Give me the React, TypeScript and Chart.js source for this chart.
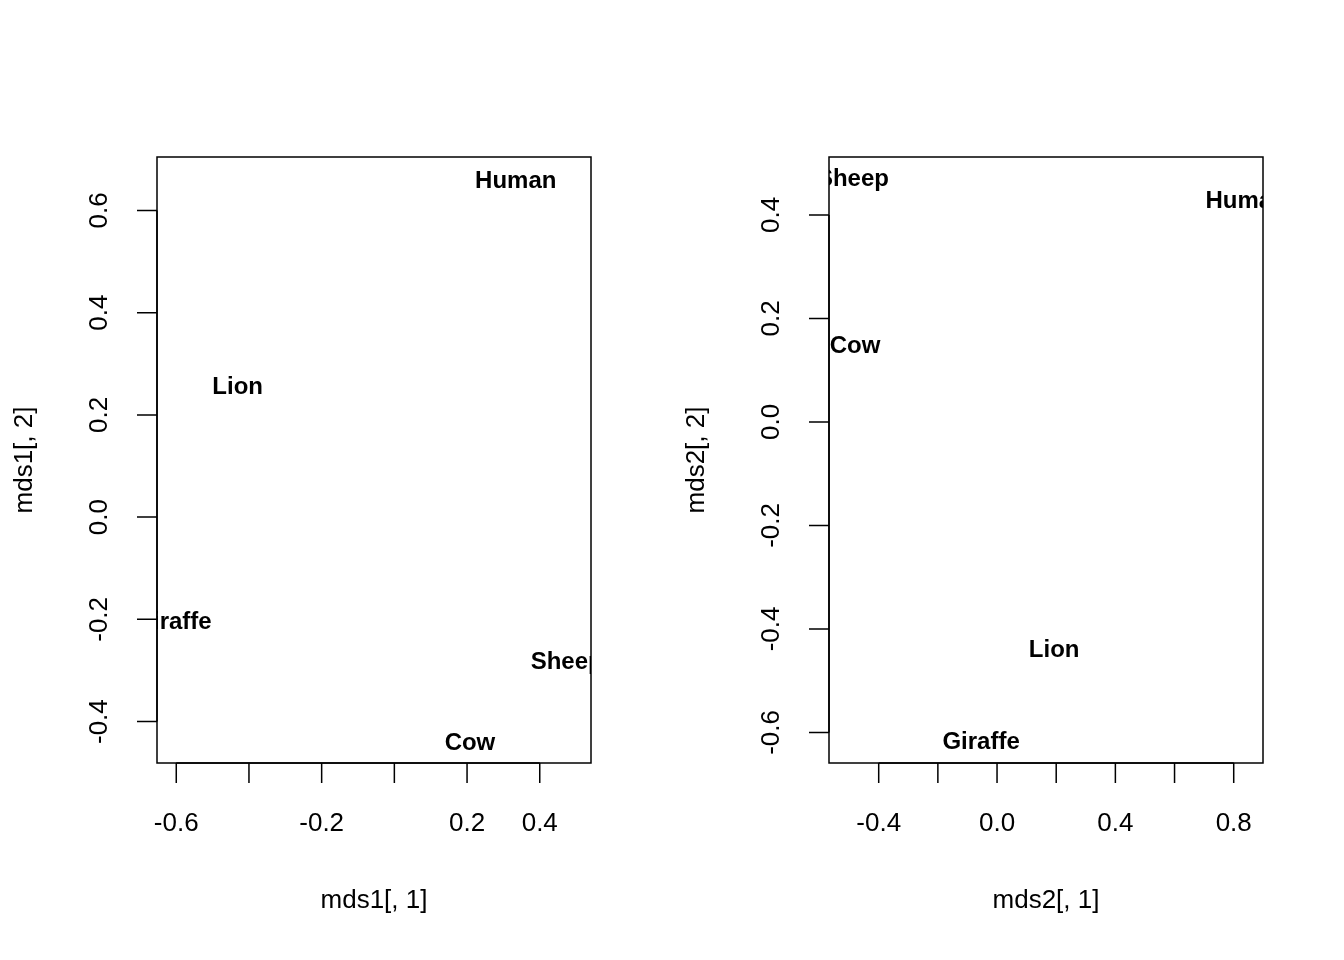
import { useEffect, useRef } from "react";
import { Chart, registerables } from "chart.js";

Chart.register(...registerables);

const animals1 = ["Human", "Lion", "Giraffe", "Sheep", "Cow"];
const mds1x = [0.334, -0.431, -0.609, 0.474, 0.208];
const mds1y = [0.656, 0.254, -0.205, -0.284, -0.442];

const animals2 = ["Sheep", "Human", "Cow", "Lion", "Giraffe"];
const mds2x = [-0.487, 0.842, -0.48, 0.193, -0.054];
const mds2y = [0.468, 0.427, 0.147, -0.441, -0.62];

const xTicks1 = [-0.6, -0.4, -0.2, 0, 0.2, 0.4];
const xLabels1 = ["-0.6", "", "-0.2", "", "0.2", "0.4"];
const yTicks1 = [-0.4, -0.2, 0, 0.2, 0.4, 0.6];
const yLabels1 = ["-0.4", "-0.2", "0.0", "0.2", "0.4", "0.6"];

const xTicks2 = [-0.4, -0.2, 0, 0.2, 0.4, 0.6, 0.8];
const xLabels2 = ["-0.4", "", "0.0", "", "0.4", "", "0.8"];
const yTicks2 = [-0.6, -0.4, -0.2, 0, 0.2, 0.4];
const yLabels2 = ["-0.6", "-0.4", "-0.2", "0.0", "0.2", "0.4"];

const FONT = "'Liberation Sans', Arial, sans-serif";

type PanelProps = {
  names: string[]; xs: number[]; ys: number[];
  xRange: [number, number]; yRange: [number, number];
  xTicks: number[]; xLabels: string[]; yTicks: number[]; yLabels: string[];
  xTitle: string; yTitle: string;
};

function Panel(p: PanelProps) {
  const ref = useRef<HTMLCanvasElement | null>(null);
  useEffect(() => {
    if (!ref.current) return;
    const plugin = {
      id: "rbase",
      afterDraw(chart: any) {
        const ctx = chart.ctx;
        const a = chart.chartArea;
        const sx = chart.scales.x, sy = chart.scales.y;
        ctx.save();
        ctx.strokeStyle = "#000";
        ctx.fillStyle = "#000";
        ctx.lineWidth = 1.5;
        ctx.strokeRect(a.left, a.top, a.right - a.left, a.bottom - a.top);
        // labels, clipped
        ctx.save();
        ctx.beginPath();
        ctx.rect(a.left, a.top, a.right - a.left, a.bottom - a.top);
        ctx.clip();
        ctx.font = `bold 24px ${FONT}`;
        ctx.textAlign = "center";
        ctx.textBaseline = "middle";
        p.names.forEach((n, i) => {
          ctx.fillText(n, sx.getPixelForValue(p.xs[i]), sy.getPixelForValue(p.ys[i]));
        });
        ctx.restore();
        // x axis
        ctx.font = `26px ${FONT}`;
        const xy = a.bottom;
        ctx.beginPath();
        ctx.moveTo(sx.getPixelForValue(p.xTicks[0]), xy);
        ctx.lineTo(sx.getPixelForValue(p.xTicks[p.xTicks.length - 1]), xy);
        p.xTicks.forEach((t) => {
          const x = sx.getPixelForValue(t);
          ctx.moveTo(x, xy);
          ctx.lineTo(x, xy + 20);
        });
        ctx.stroke();
        ctx.textAlign = "center";
        ctx.textBaseline = "middle";
        p.xTicks.forEach((t, i) => {
          if (p.xLabels[i]) ctx.fillText(p.xLabels[i], sx.getPixelForValue(t), 824);
        });
        ctx.fillText(p.xTitle, (a.left + a.right) / 2, 901);
        // y axis
        const yx = a.left;
        ctx.beginPath();
        ctx.moveTo(yx, sy.getPixelForValue(p.yTicks[0]));
        ctx.lineTo(yx, sy.getPixelForValue(p.yTicks[p.yTicks.length - 1]));
        p.yTicks.forEach((t) => {
          const y = sy.getPixelForValue(t);
          ctx.moveTo(yx, y);
          ctx.lineTo(yx - 20, y);
        });
        ctx.stroke();
        p.yTicks.forEach((t, i) => {
          ctx.save();
          ctx.translate(100, sy.getPixelForValue(t));
          ctx.rotate(-Math.PI / 2);
          ctx.fillText(p.yLabels[i], 0, 0);
          ctx.restore();
        });
        ctx.save();
        ctx.translate(25, (a.top + a.bottom) / 2);
        ctx.rotate(-Math.PI / 2);
        ctx.fillText(p.yTitle, 0, 0);
        ctx.restore();
        ctx.restore();
      },
    };
    const chart = new Chart(ref.current, {
      type: "scatter",
      data: {
        datasets: [{ data: p.xs.map((x, i) => ({ x, y: p.ys[i] })), pointRadius: 0 }],
      },
      options: {
        responsive: false,
        animation: false,
        layout: { padding: { left: 157, right: 81, top: 157, bottom: 197 } },
        plugins: { legend: { display: false }, tooltip: { enabled: false } },
        scales: {
          x: { type: "linear", display: false, min: p.xRange[0], max: p.xRange[1] },
          y: { type: "linear", display: false, min: p.yRange[0], max: p.yRange[1] },
        },
      },
      plugins: [plugin],
    } as any);
    return () => chart.destroy();
  }, []);
  return <canvas ref={ref} width={672} height={960} style={{ width: 672, height: 960, display: "block" }} />;
}

export default function App() {
  useEffect(() => {
    document.body.style.margin = "0";
    document.body.style.background = "#fff";
  }, []);
  return (
    <div style={{ display: "flex", width: 1344, height: 960, background: "#fff" }}>
      <Panel names={animals1} xs={mds1x} ys={mds1y} xRange={[-0.653, 0.541]} yRange={[-0.481, 0.7045]}
        xTicks={xTicks1} xLabels={xLabels1} yTicks={yTicks1} yLabels={yLabels1}
        xTitle="mds1[, 1]" yTitle="mds1[, 2]" />
      <Panel names={animals2} xs={mds2x} ys={mds2y} xRange={[-0.568, 0.899]} yRange={[-0.659, 0.512]}
        xTicks={xTicks2} xLabels={xLabels2} yTicks={yTicks2} yLabels={yLabels2}
        xTitle="mds2[, 1]" yTitle="mds2[, 2]" />
    </div>
  );
}
